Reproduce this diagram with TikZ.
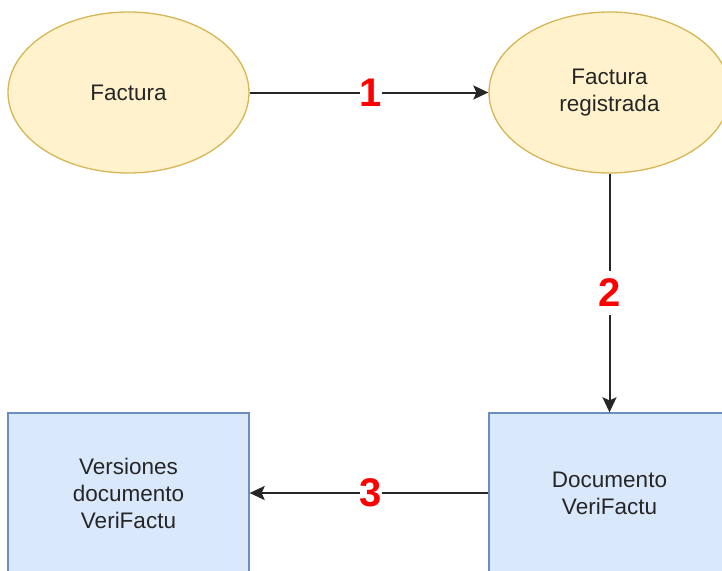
\documentclass[tikz,border=0pt]{standalone}
\usepackage{fontspec}
\setmainfont{Liberation Sans}
\usetikzlibrary{shapes.geometric,arrows.meta}
\definecolor{ellfill}{HTML}{FFF2CC}
\definecolor{elldraw}{HTML}{D6B656}
\definecolor{boxfill}{HTML}{DAE8FC}
\definecolor{boxdraw}{HTML}{6C8EBF}
\definecolor{txt}{HTML}{262626}
\tikzset{
  ell/.style={ellipse, fill=ellfill, draw=elldraw, line width=1.3pt, minimum width=241pt, minimum height=161pt, inner sep=0pt, align=center, text=txt, font=\fontsize{22.5}{27}\selectfont},
  blk/.style={rectangle, fill=boxfill, draw=boxdraw, line width=1.3pt, minimum width=241pt, minimum height=160pt, inner sep=0pt, align=center, text=txt, font=\fontsize{22.5}{27}\selectfont},
  conn/.style={line width=2pt, draw=black!85, -{Stealth[length=15pt,width=14pt,inset=3pt]}},
  num/.style={fill=white, text=red, font=\bfseries\fontsize{40}{40}\selectfont, inner xsep=0pt, inner ysep=8pt}
}
\begin{document}
\begin{tikzpicture}[x=1pt,y=-1pt]
\useasboundingbox (0,0) rectangle (722,570);
\clip (0,0) rectangle (722,570);
\node[ell] (fac) at (128.5,92.5) {Factura};
\node[ell] (reg) at (609.5,92.5) {Factura\\registrada};
\node[blk] (ver) at (128.5,493) {Versiones\\documento\\VeriFactu};
\node[blk] (doc) at (609.5,493) {Documento\\VeriFactu};
\draw[conn] (fac) -- node[num, pos=0.507] {1} (reg);
\draw[conn] (reg) -- node[num, pos=0.5] {2} (doc);
\draw[conn] (doc) -- node[num, pos=0.493] {3} (ver);
\end{tikzpicture}
\end{document}
